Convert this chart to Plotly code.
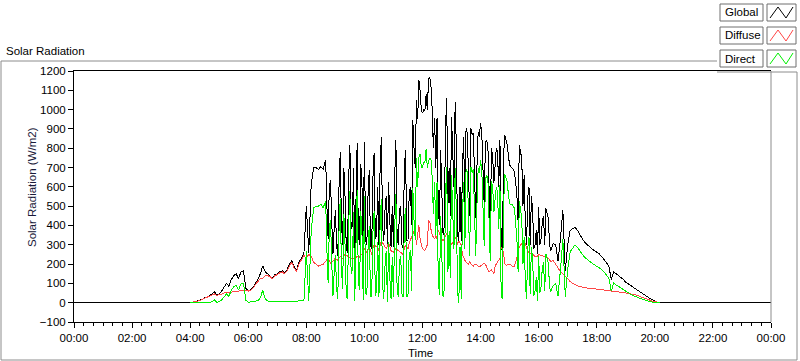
import pandas as pd
import plotly.graph_objects as go

# Samples: 04:00-08:25 every 5 min, 08:30-16:27:30 every 2.5 min, 16:30-20:10 every 5 min (W/m2)
global_vals = [
    0, 2, 5, 8, 12, 18, 25, 30, 35, 45, 57, 40,                       # 04
    45, 60, 80, 100, 85, 120, 140, 150, 125, 160, 166, 75,            # 05
    62, 68, 80, 100, 120, 150, 190, 160, 150, 140, 128, 145,          # 06
    150, 160, 165, 155, 170, 200, 218, 185, 170, 210, 235, 254,       # 07
    500, 260, 610, 700, 700, 690,                                     # 08:00-08:25
    705, 700, 690, 720, 740, 500, 330, 600, 634, 420, 250, 380,       # 08:30
    478, 300, 240, 600, 779, 420, 300, 700, 550, 280, 260, 650,       # 09:00
    815, 380, 400, 700, 230, 520, 826, 350, 300, 720, 600, 280,       # 09:30
    833, 320, 300, 560, 686, 300, 280, 640, 774, 330, 350, 600,       # 10:00
    300, 720, 859, 400, 320, 480, 550, 300, 625, 420, 290, 500,       # 10:30
    290, 650, 841, 350, 300, 480, 500, 300, 280, 700, 790, 320,       # 11:00
    320, 560, 600, 400, 945, 800, 700, 1050, 950, 1153, 1100, 1000,   # 11:30
    982, 1000, 997, 1080, 1000, 1160, 1170, 1120, 1000, 800, 955, 700,  # 12:00
    955, 500, 400, 790, 600, 350, 400, 900, 1060, 500, 700, 450,      # 12:30
    961, 700, 600, 1039, 800, 350, 320, 600, 320, 700, 857, 500,      # 13:00
    904, 880, 700, 450, 904, 870, 880, 600, 440, 700, 885, 860,       # 13:30
    930, 880, 700, 500, 836, 841, 820, 600, 380, 800, 760, 620,       # 14:00
    750, 800, 780, 600, 841, 330, 250, 760, 867, 840, 820, 760,       # 14:30
    712, 705, 700, 690, 680, 620, 560, 420, 815, 780, 750, 500,       # 15:00
    660, 400, 300, 550, 600, 300, 550, 478, 280, 300, 374, 250,       # 15:30
    493, 300, 330, 420, 450, 300, 488, 460, 436, 300, 270, 290,       # 16:00
    306, 300, 218, 330, 478, 166,                                     # 16:30-16:55
    300, 374, 385, 391, 375, 350, 332, 313, 300, 290, 279, 270,       # 17
    262, 253, 240, 225, 209, 190, 120, 160, 150, 140, 131, 120,       # 18
    106, 100, 90, 80, 71, 62, 53, 45, 37, 30, 22, 14,                 # 19
    5, 1, 0,                                                          # 20
]
diffuse_vals = [
    0, 2, 5, 8, 12, 18, 24, 28, 33, 40, 45, 38,
    40, 45, 50, 55, 52, 55, 58, 60, 60, 62, 65, 62,
    60, 64, 75, 95, 110, 125, 125, 140, 140, 135, 124, 140,
    145, 155, 160, 150, 165, 192, 210, 178, 162, 200, 225, 245,
    230, 250, 240, 210, 200, 190,
    195, 198, 200, 208, 215, 225, 230, 215, 205, 210, 215, 225,
    230, 225, 220, 230, 240, 235, 230, 240, 250, 245, 240, 238,
    235, 232, 230, 228, 220, 230, 240, 237, 235, 245, 250, 265,
    280, 270, 260, 275, 290, 270, 250, 280, 300, 295, 290, 285,
    270, 300, 320, 310, 300, 290, 280, 295, 310, 290, 270, 265,
    260, 270, 280, 275, 270, 265, 260, 255, 250, 280, 300, 290,
    280, 310, 330, 340, 350, 374, 374, 300, 350, 400, 330, 300,
    280, 275, 270, 285, 300, 426, 420, 380, 350, 340, 330, 350,
    330, 374, 360, 340, 330, 322, 330, 345, 358, 340, 330, 320,
    300, 310, 320, 340, 330, 300, 320, 310, 300, 250, 230, 220,
    210, 205, 200, 210, 200, 195, 190, 200, 200, 195, 190, 190,
    190, 195, 200, 205, 200, 180, 170, 160, 165, 170, 160, 150,
    190, 200, 210, 220, 230, 286, 270, 260, 200, 195, 195, 200,
    200, 195, 190, 190, 190, 210, 230, 260, 290, 300, 306, 300,
    322, 300, 280, 270, 260, 255, 260, 250, 245, 240, 240, 240,
    250, 248, 245, 242, 240, 238, 235, 233, 230, 222, 215, 216,
    218, 200, 182, 160, 150, 135,
    125, 110, 100, 92, 88, 84, 80, 78, 76, 75, 74, 73,
    72, 70, 68, 66, 63, 62, 60, 59, 58, 56, 55, 53,
    50, 48, 46, 43, 40, 36, 32, 28, 24, 18, 13, 8,
    4, 1, 0,
]
direct_vals = [
    0, 0, 0, 0, 0, 0, 1, 2, 2, 5, 15, 2,
    5, 15, 30, 45, 33, 65, 82, 90, 65, 98, 101, 13,
    2, 4, 5, 5, 10, 25, 65, 20, 10, 5, 4, 5,
    5, 5, 5, 5, 5, 8, 8, 7, 8, 10, 10, 9,
    270, 10, 370, 490, 500, 500,
    510, 502, 490, 512, 525, 275, 100, 385, 429, 210, 35, 155,
    248, 75, 20, 370, 539, 185, 70, 460, 300, 35, 20, 412,
    580, 148, 170, 472, 10, 290, 586, 113, 65, 475, 350, 15,
    553, 50, 40, 285, 396, 30, 30, 360, 474, 35, 60, 315,
    30, 420, 539, 90, 20, 190, 270, 5, 315, 130, 20, 235,
    30, 380, 561, 75, 30, 215, 240, 45, 30, 420, 490, 30,
    40, 250, 270, 60, 595, 426, 326, 750, 600, 753, 770, 700,
    702, 725, 727, 795, 700, 734, 750, 740, 650, 460, 625, 350,
    625, 126, 40, 450, 270, 28, 70, 555, 702, 160, 370, 130,
    661, 390, 280, 699, 470, 50, 0, 290, 20, 450, 627, 280,
    694, 675, 500, 240, 704, 675, 690, 400, 240, 505, 695, 670,
    740, 685, 500, 295, 636, 661, 650, 440, 215, 630, 600, 470,
    560, 600, 570, 380, 611, 44, 20, 500, 667, 645, 625, 560,
    512, 510, 510, 500, 490, 410, 330, 160, 525, 480, 444, 200,
    338, 100, 20, 280, 340, 45, 290, 228, 35, 60, 134, 10,
    243, 52, 85, 178, 210, 62, 253, 227, 206, 78, 55, 74,
    88, 100, 36, 170, 328, 31,
    175, 264, 285, 299, 287, 266, 252, 235, 224, 215, 205, 197,
    190, 183, 172, 159, 146, 128, 60, 101, 92, 84, 76, 67,
    56, 52, 44, 37, 31, 26, 21, 17, 13, 9, 5, 2,
    0, 0, 0,
]
series_names = ["Global", "Diffuse", "Direct"]
series_colors = ["#000000", "#ff4646", "#00f000"]

day_start = pd.Timestamp("2020-01-01 00:00")
day_end = pd.Timestamp("2020-01-02 00:00")
day_times = (list(pd.date_range("2020-01-01 04:00", "2020-01-01 08:25", freq="5min"))
             + list(pd.date_range("2020-01-01 08:30", periods=192, freq="150s"))
             + list(pd.date_range("2020-01-01 16:30", "2020-01-01 20:10", freq="5min")))
assert len(day_times) == len(global_vals) == len(diffuse_vals) == len(direct_vals)

FONT = "Liberation Sans, Arial, sans-serif"
W, H = 800, 361
ML, MR, MT, MB = 74, 29, 71, 39
PW, PH = W - ML - MR, H - MT - MB


def px(x):
    return (x - ML) / PW


def py(y):
    return (H - MB - y) / PH


fig = go.Figure()
fig.add_trace(go.Scatter(x=[day_start] + day_times + [day_end], y=[0] + global_vals + [0],
                         mode="lines", line=dict(color=series_colors[0], width=1),
                         name=series_names[0]))
fig.add_trace(go.Scatter(x=day_times, y=diffuse_vals, mode="lines",
                         line=dict(color=series_colors[1], width=1), name=series_names[1]))
fig.add_trace(go.Scatter(x=day_times, y=direct_vals, mode="lines",
                         line=dict(color=series_colors[2], width=1), name=series_names[2]))

shapes = []
annotations = []
gray = "#8c8c8c"
# outer panel frame
shapes.append(dict(type="path", xref="paper", yref="paper",
                   path=f"M {px(717)},{py(61)} L {px(1)},{py(61)} L {px(1)},{py(360)} L {px(797)},{py(360)} L {px(797)},{py(72)} L {px(717)},{py(72)}",
                   line=dict(color=gray, width=1)))
# right edge of plot area
shapes.append(dict(type="line", xref="paper", yref="paper", x0=1, x1=1, y0=0, y1=1,
                   line=dict(color=gray, width=1)))

# custom legend
rows = [(4, 21), (27, 44), (50, 67)]
for name, color, (y0, y1) in zip(series_names, series_colors, rows):
    shapes.append(dict(type="rect", xref="paper", yref="paper",
                       x0=px(720), x1=px(763), y0=py(y1), y1=py(y0),
                       line=dict(color="#6e6e6e", width=1), fillcolor="white"))
    shapes.append(dict(type="rect", xref="paper", yref="paper",
                       x0=px(767), x1=px(796), y0=py(y1), y1=py(y0),
                       line=dict(color="#6e6e6e", width=1), fillcolor="white"))
    shapes.append(dict(type="path", xref="paper", yref="paper",
                       path=(f"M {px(770)},{py(y1 - 3)} L {px(778)},{py(y0 + 3)} "
                             f"L {px(786)},{py(y1 - 3)} L {px(793)},{py(y0 + 3)}"),
                       line=dict(color=color, width=1)))
    annotations.append(dict(text=name, xref="paper", yref="paper", x=px(723), y=py((y0 + y1) / 2),
                            xanchor="left", yanchor="middle", showarrow=False,
                            font=dict(family=FONT, size=11.5, color="black")))

annotations.append(dict(text="Solar Radiation", xref="paper", yref="paper", x=px(4), y=py(51),
                        xanchor="left", yanchor="middle", showarrow=False,
                        font=dict(family=FONT, size=11.5, color="black")))
annotations.append(dict(text="Solar Radiation (W/m2)", xref="paper", yref="paper", x=px(32), y=py(187),
                        xanchor="center", yanchor="middle", textangle=-90, showarrow=False,
                        font=dict(family=FONT, size=11.5, color="#1a1a3a")))
annotations.append(dict(text="Time", xref="paper", yref="paper", x=px(420), y=py(353),
                        xanchor="center", yanchor="middle", showarrow=False,
                        font=dict(family=FONT, size=11.5, color="black")))

fig.update_layout(
    width=W, height=H,
    margin=dict(l=ML, r=MR, t=MT, b=MB, pad=0),
    paper_bgcolor="white", plot_bgcolor="white",
    showlegend=False,
    font=dict(family=FONT, size=11.5, color="black"),
    xaxis=dict(type="date", range=[day_start, day_end], tickformat="%H:%M",
               tick0=day_start, dtick=2 * 3600 * 1000,
               ticks="outside", ticklen=5, tickcolor="black", tickwidth=1,
               showline=True, linecolor="black", linewidth=1, mirror=True,
               showgrid=False, zeroline=False,
               tickfont=dict(family=FONT, size=11.5, color="black"),
               minor=dict(dtick=20 * 60 * 1000, ticks="outside", ticklen=3,
                          tickcolor="black", showgrid=False)),
    yaxis=dict(range=[-100, 1200], tick0=0, dtick=100,
               ticks="outside", ticklen=5, tickcolor="black", tickwidth=1,
               showline=True, linecolor="black", linewidth=1,
               showgrid=False, zeroline=False,
               tickfont=dict(family=FONT, size=11.5, color="black")),
    shapes=shapes,
    annotations=annotations,
)

fig.write_html(
    "out.html", config={"displayModeBar": False},
    post_script=("document.body.style.margin='0';"
                 "document.querySelectorAll('.scatterlayer path.js-line')"
                 ".forEach(function(p){p.style.shapeRendering='crispEdges';});"),
)
